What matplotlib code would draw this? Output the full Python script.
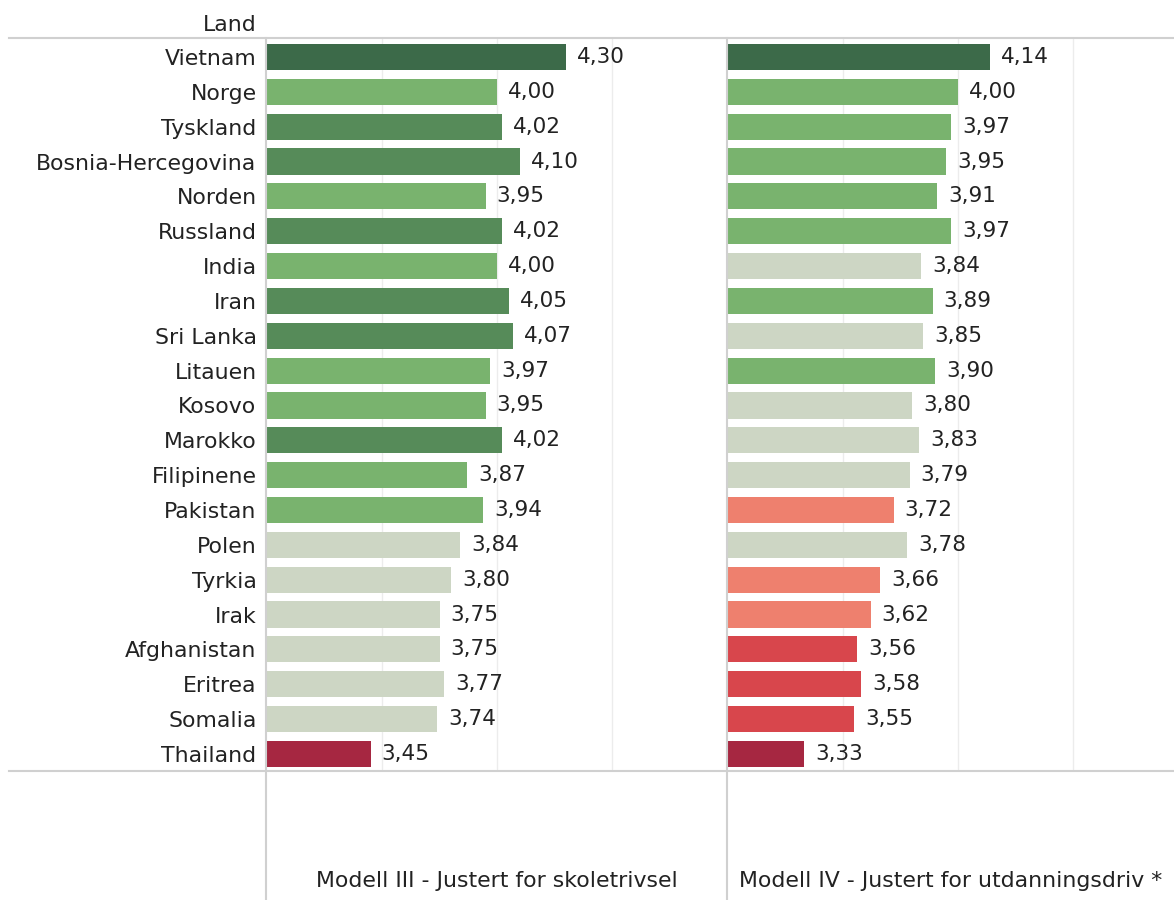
"""Two-panel horizontal bar chart: scores per country for Modell III and Modell IV."""

import matplotlib.pyplot as plt
from matplotlib.lines import Line2D

countries = ["Vietnam", "Norge", "Tyskland", "Bosnia-Hercegovina", "Norden", "Russland",
             "India", "Iran", "Sri Lanka", "Litauen", "Kosovo", "Marokko", "Filipinene",
             "Pakistan", "Polen", "Tyrkia", "Irak", "Afghanistan", "Eritrea", "Somalia",
             "Thailand"]

modell3 = [4.30, 4.00, 4.02, 4.10, 3.95, 4.02, 4.00, 4.05, 4.07, 3.97, 3.95, 4.02, 3.87,
           3.94, 3.84, 3.80, 3.75, 3.75, 3.77, 3.74, 3.45]
modell4 = [4.14, 4.00, 3.97, 3.95, 3.91, 3.97, 3.84, 3.89, 3.85, 3.90, 3.80, 3.83, 3.79,
           3.72, 3.78, 3.66, 3.62, 3.56, 3.58, 3.55, 3.33]

# colour group per bar (0 = best ... 6 = worst)
group3 = [0, 2, 1, 1, 2, 1, 2, 1, 1, 2, 2, 1, 2, 2, 3, 3, 3, 3, 3, 3, 6]
group4 = [0, 2, 2, 2, 2, 2, 3, 2, 3, 2, 3, 3, 3, 4, 3, 4, 4, 5, 5, 5, 6]

titles = ["Modell III - Justert for skoletrivsel", "Modell IV - Justert for utdanningsdriv *"]

palette = ["#3c6a49", "#568b59", "#79b36e", "#cdd6c4", "#ee806e", "#d8464c", "#a62741"]

plt.rcParams["font.family"] = ["DejaVu Sans"]
text_color = "#222222"
line_color = "#d0d0d0"
fs = 15.8

W, H = 1174, 900
fig = plt.figure(figsize=(W / 100, H / 100), dpi=100)

top, bottom = 38, 771
panels = [(267, 727, 5.0), (728, 1174, 4.94)]
values = [modell3, modell4]
groups = [group3, group4]

ypos = list(range(len(countries)))
for i, (x0, x1, xmax) in enumerate(panels):
    ax = fig.add_axes([x0 / W, 1 - bottom / H, (x1 - x0) / W, (bottom - top) / H])
    bars = ax.barh(ypos, values[i], height=0.75,
                   color=[palette[g] for g in groups[i]], zorder=2)
    # the value axis starts at 3.0
    ax.set_xlim(3.0, xmax)
    ax.set_ylim(len(countries) - 0.51, -0.545)
    ax.bar_label(bars, labels=[f"{v:.2f}".replace(".", ",") for v in values[i]],
                 padding=8, fontsize=15.5, color=text_color)
    ax.set_xticks([3.5, 4.0, 4.5])
    ax.grid(axis="x", color="#ececec", linewidth=1, zorder=0)
    ax.tick_params(left=False, bottom=False, labelbottom=False, labelleft=False)
    for s in ax.spines.values():
        s.set_visible(False)
    if i == 0:
        ax.set_yticks(ypos)
        ax.set_yticklabels(countries)
        ax.tick_params(labelleft=True, pad=4, labelsize=fs, labelcolor=text_color)
    fig.text((x0 + x1) / 2 / W, 1 - 881 / H, titles[i], ha="center", va="center",
             fontsize=fs, color=text_color)

fig.text(257 / W, 1 - 25 / H, "Land", ha="right", va="center", fontsize=fs, color=text_color)

# frame lines
for y in (top, bottom):
    fig.add_artist(Line2D([9 / W, 1], [1 - y / H, 1 - y / H], color=line_color, linewidth=1.5))
for x in (266, 727):
    fig.add_artist(Line2D([x / W, x / W], [1 - top / H, 0], color=line_color, linewidth=1.5))

plt.savefig("out.png", dpi=100)
